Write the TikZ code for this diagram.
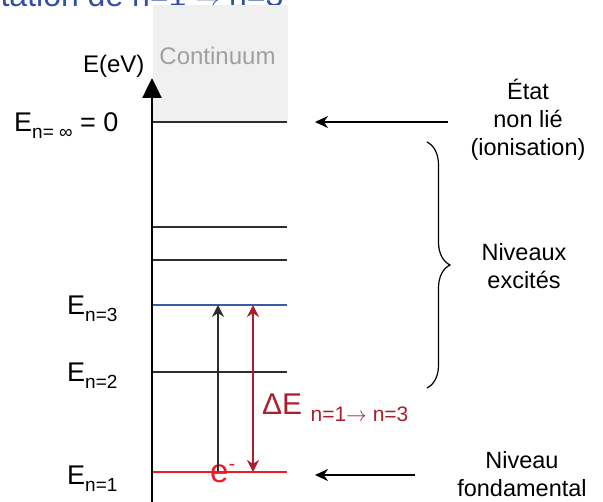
\documentclass[tikz,border=0pt]{standalone}
\usepackage{fontspec}
\setmainfont{Liberation Sans}
\usetikzlibrary{arrows.meta, decorations.pathreplacing}
\definecolor{levelgrey}{RGB}{45, 45, 45}
\definecolor{levelblue}{RGB}{60, 90, 170}
\definecolor{levelred}{RGB}{237, 28, 36}
\definecolor{darkred}{RGB}{168, 32, 46}
\definecolor{contfill}{RGB}{240, 240, 240}
\definecolor{contgrey}{RGB}{160, 160, 160}
\definecolor{titleblue}{RGB}{50, 80, 165}
\newcommand{\lvlsub}[2]{{\fontsize{#1}{#1}\selectfont\raisebox{-7pt}{#2}}}

\begin{document}
\begin{tikzpicture}[x=1pt, y=-1pt, font=\fontsize{23.5}{28}\selectfont,
  energyline/.style={line width=1.3},
  pointer/.style={-{Stealth[length=13pt, width=12pt]}, line width=2},
  elabel/.style={anchor=base east, font=\fontsize{27}{27}\selectfont}]

  \pgfmathsetmacro{\xl}{153};
  \pgfmathsetmacro{\xr}{287};
  \pgfmathsetmacro{\yinf}{122};
  \pgfmathsetmacro{\yv}{227};
  \pgfmathsetmacro{\yiv}{260};
  \pgfmathsetmacro{\yiii}{305};
  \pgfmathsetmacro{\yii}{372};
  \pgfmathsetmacro{\yi}{472};

  \useasboundingbox (0, 0) rectangle (603, 502);

  \node[anchor=base east, text=titleblue, font=\fontsize{32}{32}\selectfont] (title) at (287, 7) {Excitation de n=1 $\rightarrow$ n=3};

  \fill[contfill] (\xl, 5) rectangle (288, \yinf);
  \node[anchor=base, text=contgrey, font=\fontsize{24}{24}\selectfont] (cont) at (217.5, 65) {Continuum};

  \coordinate (axisbot) at (152, 502);
  \coordinate (axistop) at (152, 78);
  \draw[-{Triangle[length=20pt, width=19pt]}, line width=2.5] (axisbot) -- (axistop);
  \node[anchor=base east, font=\fontsize{24}{24}\selectfont] (eev) at (148, 73) {E(eV)};

  \draw[energyline, levelgrey] (\xl, \yinf) -- (\xr, \yinf);
  \draw[energyline, levelgrey] (\xl, \yv) -- (\xr, \yv);
  \draw[energyline, levelgrey] (\xl, \yiv) -- (\xr, \yiv);
  \draw[energyline, levelblue] (\xl, \yiii) -- (\xr, \yiii);
  \draw[energyline, levelgrey] (\xl, \yii) -- (\xr, \yii);
  \draw[energyline, levelred] (\xl, \yi) -- (\xr, \yi);

  \node[elabel] (einf) at (122, 132) {E\lvlsub{19}{n= ∞} = 0};
  \node[elabel] (eiii) at (121, 315) {E\lvlsub{19}{n=3}};
  \node[elabel] (eii) at (121, 382) {E\lvlsub{19}{n=2}};
  \node[elabel] (ei) at (121, 485) {E\lvlsub{19}{n=1}};

  % electron and transition
  \node[anchor=base west, inner sep=0, text=levelred, font=\fontsize{33}{33}\selectfont] (elec) at (210, 483) {e\raisebox{12pt}{\fontsize{20}{20}\selectfont -}};
  \coordinate (exbot) at (218, 471);
  \coordinate (extop) at (218, \yiii);
  \draw[-{Stealth[length=12pt, width=12pt]}, line width=1.5, levelgrey] (exbot) -- (extop);

  \coordinate (gapbot) at (253, \yi);
  \coordinate (gaptop) at (253, \yiii);
  \draw[{Stealth[length=12pt, width=12pt]}-{Stealth[length=12pt, width=12pt]}, line width=2, darkred] (gapbot) -- (gaptop);
  \node[anchor=base west, inner sep=0, text=darkred, font=\fontsize{30}{30}\selectfont] (gap) at (262, 415) {ΔE \lvlsub{21}{n=1$\rightarrow$ n=3}};

  % right side
  \node[align=center] (unbound) at (528, 120) {État\\non lié\\(ionisation)};
  \coordinate (unboundtail) at (448, \yinf);
  \coordinate (unboundtip) at (315, \yinf);
  \draw[pointer] (unboundtail) -- (unboundtip);

  \draw[decorate, decoration={brace, amplitude=23}, line width=1.2] (427, 142) -- (427, 388);
  \node[align=center] (excited) at (524, 266) {Niveaux\\excités};

  \node[align=center] (ground) at (522, 474) {Niveau\\fondamental};
  \coordinate (groundtail) at (415, 475);
  \coordinate (groundtip) at (315, 475);
  \draw[pointer] (groundtail) -- (groundtip);

\end{tikzpicture}
\end{document}
